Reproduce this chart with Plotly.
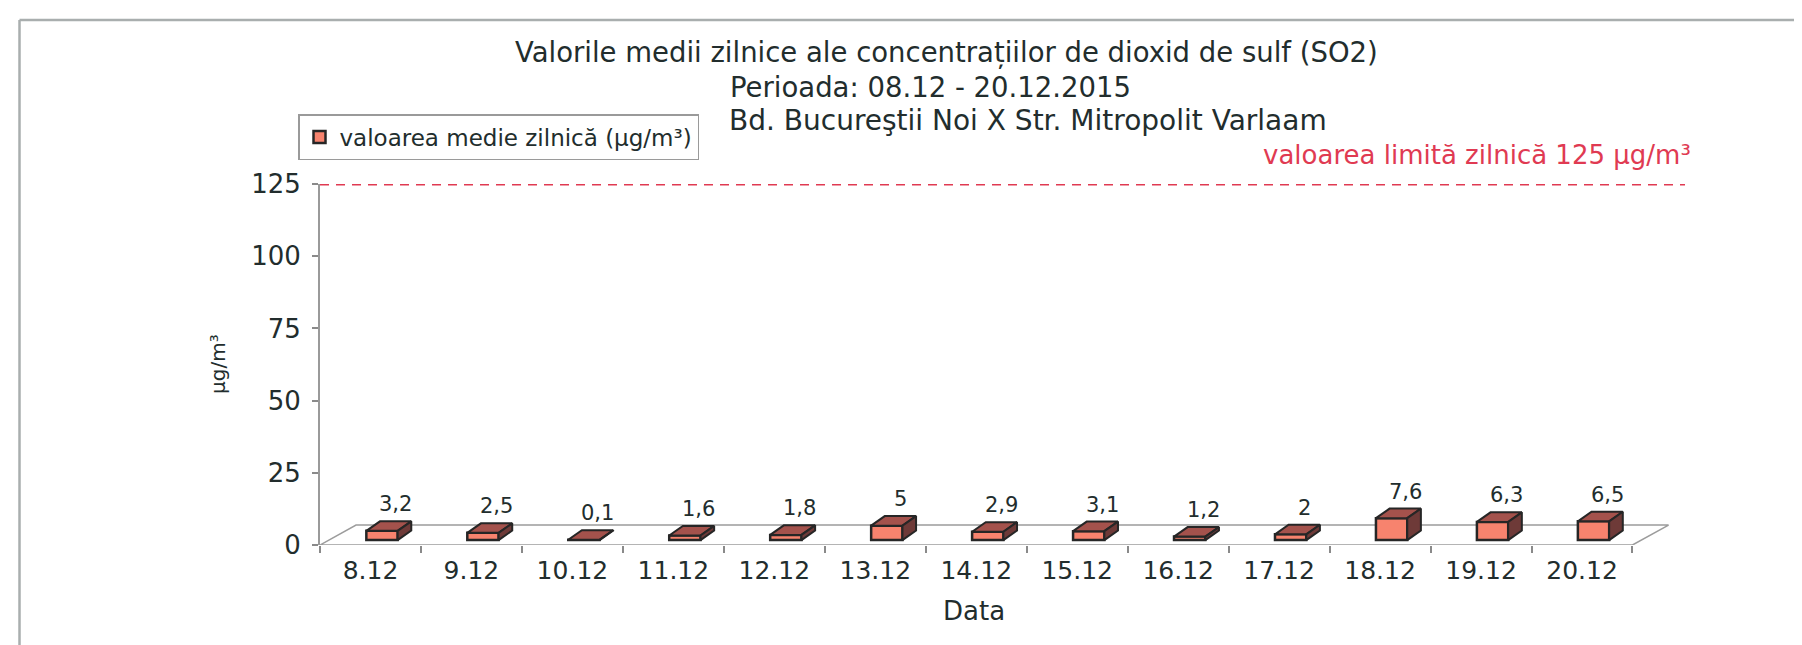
import plotly.graph_objects as go

# ---------------- data ----------------
categories = ["8.12", "9.12", "10.12", "11.12", "12.12", "13.12", "14.12",
              "15.12", "16.12", "17.12", "18.12", "19.12", "20.12"]
values = [3.2, 2.5, 0.1, 1.6, 1.8, 5, 2.9, 3.1, 1.2, 2, 7.6, 6.3, 6.5]
limit_value = 125
y_ticks = [0, 25, 50, 75, 100, 125]

series_name = "valoarea medie zilnică (µg/m³)"
limit_label = "valoarea limită zilnică 125 µg/m³"
title_lines = ["Valorile medii zilnice ale concentrațiilor de dioxid de sulf (SO2)",
               "Perioada: 08.12 - 20.12.2015",
               "Bd. Bucureştii Noi X Str. Mitropolit Varlaam"]
x_title = "Data"
y_title = "µg/m³"

# ---------------- styling / geometry ----------------
FONT = "DejaVu Sans"
TXT = "#222D2D"
RED = "#E03A52"
FRONT = "#F7836E"
TOP = "#A4524C"
SIDE = "#6E3A38"
EDGE = "#262626"

n = len(categories)
xs = list(range(n))

# 3D pseudo-depth (data units)
floor_dx, floor_dy = 0.357, 6.9
bar_off, bar_w = 0.114, 0.31
bar_base = 1.7
top_dx, top_dy = 0.135, 3.3

fig = go.Figure()

# front faces (real bar trace)
fig.add_trace(go.Bar(
    x=[x + bar_off for x in xs], y=values, base=[bar_base] * n, width=bar_w,
    marker=dict(color=FRONT, line=dict(color=EDGE, width=2.5)),
    name=series_name, showlegend=True, hoverinfo="skip"))

# top & side faces
tx, ty, sx, sy = [], [], [], []
for x, v in zip(xs, values):
    x0 = x + bar_off - bar_w / 2
    x1 = x + bar_off + bar_w / 2
    h = bar_base + v
    tx += [x0, x1, x1 + top_dx, x0 + top_dx, x0, None]
    ty += [h, h, h + top_dy, h + top_dy, h, None]
    sx += [x1, x1, x1 + top_dx, x1 + top_dx, x1, None]
    sy += [bar_base, h, h + top_dy, bar_base + top_dy, bar_base, None]

fig.add_trace(go.Scatter(x=tx, y=ty, mode="lines", fill="toself", fillcolor=TOP,
                         line=dict(color=EDGE, width=2), showlegend=False, hoverinfo="skip"))
fig.add_trace(go.Scatter(x=sx, y=sy, mode="lines", fill="toself", fillcolor=SIDE,
                         line=dict(color=EDGE, width=2), showlegend=False, hoverinfo="skip"))

# limit line
x_left = -0.5
x_right = 13.03
fig.add_trace(go.Scatter(x=[x_left, x_right - 0.01], y=[limit_value, limit_value], mode="lines",
                         line=dict(color=RED, width=3.2, dash="9px,7px"),
                         showlegend=False, hoverinfo="skip", cliponaxis=False))

# floor (below traces)
floor_pts = [(x_left, 0), (n - 0.5, 0), (n - 0.5 + floor_dx, floor_dy), (x_left + floor_dx, floor_dy)]
path = "M " + " L ".join(f"{px},{py}" for px, py in floor_pts) + " Z"
fig.add_shape(type="path", path=path, xref="x", yref="y", layer="below",
              line=dict(color="#9C9C9C", width=1.5))

# data labels
for x, v in zip(xs, values):
    lbl = (f"{v:g}").replace(".", ",")
    fig.add_annotation(x=x + bar_off + top_dx / 2 + 0.07, y=bar_base + v + top_dy, text=lbl,
                       showarrow=False, yshift=17, xref="x", yref="y",
                       font=dict(family=FONT, size=21, color=TXT))

# ---------------- layout ----------------
L, R, T, B = 312, 124, 176, 108
W, H = 1802, 645
pw, ph = W - L - R, H - T - B


def px2x(p):
    return (p - L) / pw


def py2y(p):
    return (H - B - p) / ph


fig.add_annotation(text=title_lines[0], x=px2x(938), y=py2y(45), xref="paper", yref="paper",
                   xanchor="center", yanchor="middle", showarrow=False,
                   font=dict(family=FONT, size=27.5, color=TXT))
fig.add_annotation(text=title_lines[1], x=px2x(720), y=py2y(79), xref="paper", yref="paper",
                   xanchor="left", yanchor="middle", showarrow=False,
                   font=dict(family=FONT, size=27.5, color=TXT))
fig.add_annotation(text=title_lines[2], x=px2x(719), y=py2y(113), xref="paper", yref="paper",
                   xanchor="left", yanchor="middle", showarrow=False,
                   font=dict(family=FONT, size=28, color=TXT))
fig.add_annotation(text=limit_label, x=px2x(1685), y=py2y(147), xref="paper", yref="paper",
                   xanchor="right", yanchor="middle", showarrow=False,
                   font=dict(family=FONT, size=26, color=RED))
fig.add_annotation(text=x_title, x=px2x(966), y=py2y(603), xref="paper", yref="paper",
                   xanchor="center", yanchor="middle", showarrow=False,
                   font=dict(family=FONT, size=26, color=TXT))
fig.add_annotation(text=y_title, x=px2x(210), y=py2y(356), xref="paper", yref="paper",
                   xanchor="center", yanchor="middle", showarrow=False, textangle=-90,
                   font=dict(family=FONT, size=20, color=TXT))

# outer frame (left + top lines)
fig.add_shape(type="line", xref="paper", yref="paper", x0=px2x(11.5), x1=px2x(11.5),
              y0=py2y(12), y1=py2y(646), line=dict(color="#A9AEAE", width=2.5))
fig.add_shape(type="line", xref="paper", yref="paper", x0=px2x(11.5), x1=px2x(1803),
              y0=py2y(12), y1=py2y(12), line=dict(color="#A9AEAE", width=2.5))

fig.update_layout(
    width=W, height=H,
    margin=dict(l=L, r=R, t=T, b=B, autoexpand=False),
    paper_bgcolor="white", plot_bgcolor="white",
    barmode="overlay",
    showlegend=True,
    legend=dict(x=px2x(290), y=py2y(106), xanchor="left", yanchor="top",
                bgcolor="white", bordercolor="#9A9A9A", borderwidth=1.5,
                font=dict(family=FONT, size=23, color=TXT),
                itemwidth=30, tracegroupgap=0),
    xaxis=dict(range=[x_left, x_right], tickmode="array",
               tickvals=[i - 0.5 for i in range(n + 1)], ticktext=[""] * (n + 1),
               ticks="outside", ticklen=7, tickcolor="#8A8A8A", tickwidth=1.5,
               showgrid=False, zeroline=False, showline=False, fixedrange=True),
    xaxis2=dict(range=[x_left, x_right], overlaying="x", side="bottom", matches="x",
                tickmode="array", tickvals=xs, ticktext=categories, ticks="",
                showgrid=False, zeroline=False, showline=False,
                tickfont=dict(family=FONT, size=25, color=TXT), ticklabelstandoff=8),
    yaxis=dict(range=[0, 125], tickmode="array", tickvals=y_ticks,
               ticktext=[str(t) for t in y_ticks],
               ticks="outside", ticklen=6, tickcolor="#8A8A8A", tickwidth=1.5,
               showline=True, linecolor="#9A9A9A", linewidth=2,
               showgrid=False, zeroline=False,
               tickfont=dict(family=FONT, size=26, color=TXT), ticklabelstandoff=6),
)

# invisible trace to activate xaxis2 labels
fig.add_trace(go.Scatter(x=xs, y=[0] * n, xaxis="x2", mode="markers",
                         marker=dict(opacity=0), showlegend=False, hoverinfo="skip"))

fig.write_html("out.html")
